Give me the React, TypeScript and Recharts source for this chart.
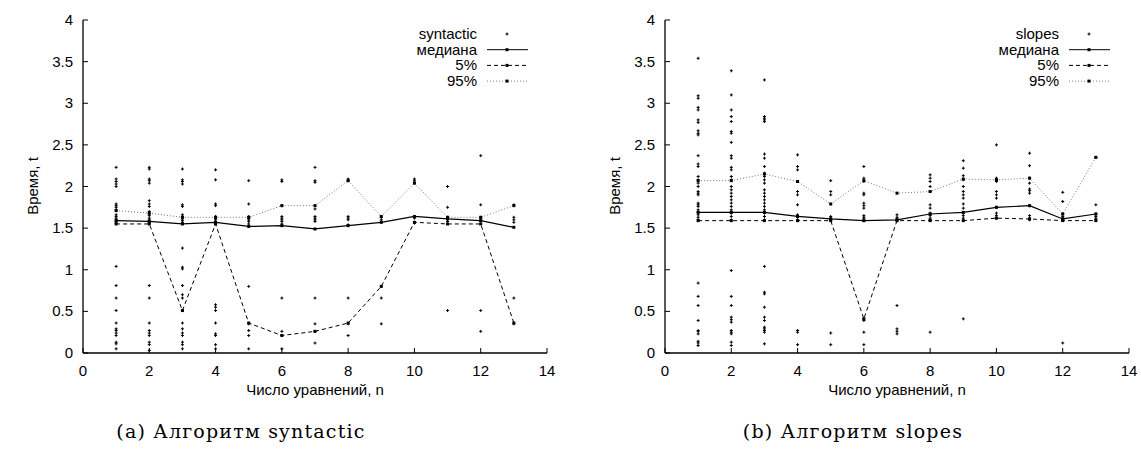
import React from 'react';
import { ScatterChart, Scatter, XAxis, YAxis } from 'recharts';

const nValues = [1, 2, 3, 4, 5, 6, 7, 8, 9, 10, 11, 12, 13];
const xTicks = [0, 2, 4, 6, 8, 10, 12, 14];
const yTicks = [0, 0.5, 1, 1.5, 2, 2.5, 3, 3.5, 4];
const legendLabels = ['медиана', '5%', '95%'];

// syntactic
const synMedian = [1.59, 1.58, 1.55, 1.57, 1.52, 1.53, 1.49, 1.53, 1.57, 1.64, 1.61, 1.59, 1.51];
const synP5 = [1.55, 1.55, 0.51, 1.55, 0.36, 0.21, 0.26, 0.36, 0.8, 1.57, 1.55, 1.55, 0.36];
const synP95 = [1.71, 1.68, 1.63, 1.63, 1.63, 1.77, 1.77, 2.07, 1.64, 2.04, 1.63, 1.63, 1.77];
const synRaw = [
  [2.23, 2.09, 2.06, 2.03, 2.0, 1.79, 1.77, 1.75, 1.72, 1.66, 1.64, 1.62, 1.6, 1.58, 1.56, 1.04, 0.81, 0.66, 0.51, 0.36, 0.29, 0.27, 0.24, 0.21, 0.13, 0.11, 0.05],
  [2.23, 2.21, 2.09, 2.07, 2.04, 1.83, 1.79, 1.76, 1.7, 1.67, 1.65, 1.62, 1.6, 1.58, 1.56, 0.81, 0.66, 0.36, 0.27, 0.24, 0.21, 0.13, 0.1, 0.03],
  [2.21, 2.08, 2.06, 2.03, 1.78, 1.76, 1.66, 1.63, 1.61, 1.59, 1.57, 1.26, 1.03, 1.01, 0.81, 0.7, 0.66, 0.51, 0.36, 0.29, 0.24, 0.21, 0.13, 0.1, 0.05],
  [2.2, 2.08, 1.79, 1.77, 1.64, 1.62, 1.6, 1.58, 0.58, 0.55, 0.51, 0.36, 0.23, 0.21, 0.1, 0.05],
  [2.07, 1.79, 1.64, 1.62, 1.6, 1.58, 1.55, 0.8, 0.35, 0.27, 0.21, 0.05],
  [2.08, 2.06, 1.77, 1.64, 1.62, 1.6, 1.58, 1.55, 0.66, 0.26, 0.21, 0.05],
  [2.23, 2.07, 2.05, 1.73, 1.64, 1.62, 1.6, 1.58, 0.66, 0.35, 0.26, 0.12],
  [2.09, 2.07, 1.64, 1.62, 1.6, 1.54, 0.66, 0.35, 0.21],
  [1.63, 1.6, 1.57, 0.8, 0.66, 0.35],
  [2.09, 2.07, 2.05, 1.64, 1.62, 1.56],
  [2.0, 1.75, 1.63, 1.61, 1.58, 0.51],
  [2.37, 1.78, 1.63, 1.61, 1.58, 0.51, 0.26],
  [1.78, 1.63, 1.6, 1.57, 0.66, 0.35],
];

// slopes
const slpMedian = [1.69, 1.69, 1.69, 1.64, 1.61, 1.59, 1.6, 1.67, 1.69, 1.75, 1.77, 1.61, 1.67];
const slpP5 = [1.59, 1.59, 1.59, 1.59, 1.59, 0.41, 1.59, 1.59, 1.59, 1.62, 1.61, 1.59, 1.59];
const slpP95 = [2.07, 2.07, 2.15, 2.06, 1.79, 2.07, 1.92, 1.94, 2.09, 2.08, 2.1, 1.67, 2.35];
const slpRaw = [
  [3.54, 3.09, 3.06, 2.95, 2.92, 2.8, 2.77, 2.67, 2.64, 2.62, 2.37, 2.27, 2.24, 2.12, 2.08, 2.04, 2.0, 1.94, 1.92, 1.9, 1.8, 1.78, 1.76, 1.72, 1.69, 1.66, 1.63, 1.6, 0.84, 0.68, 0.57, 0.39, 0.27, 0.26, 0.23, 0.14, 0.12, 0.09],
  [3.39, 3.1, 2.92, 2.84, 2.78, 2.66, 2.64, 2.53, 2.37, 2.34, 2.23, 2.2, 2.12, 2.08, 2.0, 1.96, 1.92, 1.88, 1.84, 1.8, 1.76, 1.72, 1.68, 1.64, 1.6, 0.99, 0.68, 0.57, 0.43, 0.4, 0.37, 0.27, 0.25, 0.23, 0.13, 0.09],
  [3.28, 2.84, 2.82, 2.8, 2.78, 2.39, 2.34, 2.24, 2.16, 2.12, 2.08, 2.04, 1.96, 1.92, 1.88, 1.84, 1.8, 1.76, 1.72, 1.68, 1.64, 1.6, 1.04, 0.73, 0.71, 0.55, 0.43, 0.39, 0.31, 0.29, 0.27, 0.25, 0.11],
  [2.38, 2.24, 2.2, 1.94, 1.9, 1.78, 1.66, 1.63, 1.6, 0.27, 0.25, 0.1],
  [2.07, 1.94, 1.9, 1.64, 1.62, 1.6, 0.24, 0.1],
  [2.24, 2.1, 2.06, 1.92, 1.9, 1.8, 1.77, 1.74, 1.65, 1.63, 1.61, 1.59, 0.41, 0.39, 0.25, 0.1],
  [1.66, 1.63, 1.61, 1.59, 0.57, 0.29, 0.26, 0.23],
  [2.14, 2.1, 2.06, 2.0, 1.94, 1.78, 1.74, 1.68, 1.65, 1.62, 1.6, 0.25],
  [2.31, 2.22, 2.13, 2.08, 2.0, 1.94, 1.9, 1.86, 1.79, 1.74, 1.68, 1.65, 1.62, 0.41],
  [2.5, 2.1, 2.08, 2.06, 1.94, 1.9, 1.86, 1.75, 1.68, 1.65, 1.62],
  [2.4, 2.25, 2.1, 2.04, 1.97, 1.95, 1.92, 1.77, 1.65, 1.62, 1.6],
  [1.93, 1.82, 1.67, 1.64, 1.62, 1.6, 0.12],
  [2.35, 1.78, 1.67, 1.64, 1.62, 1.6],
];

const toXY = (ys: number[]) => ys.map((y, i) => ({ x: nValues[i], y }));
const flatPoints = (raw: number[][]) =>
  raw.flatMap((ys, i) => ys.map((y) => ({ x: nValues[i], y })));

const FONT = '"Liberation Sans", Arial, sans-serif';
const W = 559;
const H = 400;

const Cross = (p: any) => (
  <path d={`M${p.cx - 1.5},${p.cy}h3M${p.cx},${p.cy - 1.5}v3`} stroke="#000" strokeWidth={1} />
);
const Square = (p: any) => (
  <rect x={p.cx - 1.5} y={p.cy - 1.5} width={3} height={3} fill="#000" />
);

const BottomTick = (p: any) => (
  <g>
    <line x1={p.x} x2={p.x} y1={p.y - 10} y2={p.y - 15} stroke="#000" />
    <text x={p.x} y={p.y + 13} textAnchor="middle" fontSize={15} fontFamily={FONT} fill="#000">
      {p.payload.value}
    </text>
  </g>
);
const TopTick = (p: any) => (
  <line x1={p.x} x2={p.x} y1={p.y + 10} y2={p.y + 15} stroke="#000" />
);
const LeftTick = (p: any) => (
  <g>
    <line x1={p.x + 10} x2={p.x + 15} y1={p.y} y2={p.y} stroke="#000" />
    <text x={p.x} y={p.y + 5} textAnchor="end" fontSize={15} fontFamily={FONT} fill="#000">
      {p.payload.value}
    </text>
  </g>
);
const RightTick = (p: any) => (
  <line x1={p.x - 10} x2={p.x - 15} y1={p.y} y2={p.y} stroke="#000" />
);

const LegendBox = ({ name }: { name: string }) => {
  const rows = [name, ...legendLabels];
  const dashes = ['', '', '4 3', '1 2'];
  const colors = ['#000', '#000', '#000', '#777'];
  return (
    <svg width={W} height={100} style={{ position: 'absolute', left: 0, top: 0 }}>
      {rows.map((r, i) => {
        const y = 34 + i * 15.7;
        return (
          <g key={r}>
            <text x={477} y={y + 5} textAnchor="end" fontSize={15} fontFamily={FONT} fill="#000">
              {r}
            </text>
            {i > 0 && (
              <line x1={487} x2={528} y1={y} y2={y} stroke={colors[i]} strokeDasharray={dashes[i]} />
            )}
            {i === 0 ? <Cross cx={507} cy={y} /> : <Square cx={507} cy={y} />}
          </g>
        );
      })}
    </svg>
  );
};

type PanelProps = {
  name: string;
  raw: number[][];
  median: number[];
  p5: number[];
  p95: number[];
  caption: string;
  captionX: number;
  left: number;
};

const Panel = ({ name, raw, median, p5, p95, caption, captionX, left }: PanelProps) => (
  <div style={{ position: 'absolute', left, top: 0, width: W, height: 461 }}>
    <ScatterChart width={W} height={H} margin={{ top: 20, right: 12, bottom: 7, left: 0 }}>
      <XAxis
        type="number"
        dataKey="x"
        xAxisId={0}
        domain={[0, 14]}
        ticks={xTicks}
        tickSize={8}
        tickMargin={2}
        height={40}
        tickLine={false}
        tick={<BottomTick />}
        axisLine={{ stroke: '#000', strokeWidth: 1.3 }}
        allowDataOverflow
      />
      <XAxis
        type="number"
        xAxisId="top"
        orientation="top"
        domain={[0, 14]}
        ticks={xTicks}
        tickSize={8}
        tickMargin={2}
        height={0}
        tickLine={false}
        tick={<TopTick />}
        axisLine={{ stroke: '#000', strokeWidth: 1.3 }}
        allowDataOverflow
      />
      <YAxis
        type="number"
        dataKey="y"
        yAxisId={0}
        domain={[0, 4]}
        ticks={yTicks}
        tickSize={8}
        tickMargin={2}
        width={83}
        tickLine={false}
        tick={<LeftTick />}
        axisLine={{ stroke: '#000', strokeWidth: 1.3 }}
        allowDataOverflow
      />
      <YAxis
        type="number"
        yAxisId="right"
        orientation="right"
        domain={[0, 4]}
        ticks={yTicks}
        tickSize={8}
        tickMargin={2}
        width={0}
        tickLine={false}
        tick={<RightTick />}
        axisLine={{ stroke: '#000', strokeWidth: 1.3 }}
        allowDataOverflow
      />
      <Scatter xAxisId={0} yAxisId={0} data={flatPoints(raw)} shape={<Cross />} isAnimationActive={false} />
      <Scatter
        xAxisId={0}
        yAxisId={0}
        data={toXY(p95)}
        shape={<Square />}
        line={{ stroke: '#777', strokeWidth: 1, strokeDasharray: '1 2' }}
        lineType="joint"
        isAnimationActive={false}
      />
      <Scatter
        xAxisId={0}
        yAxisId={0}
        data={toXY(p5)}
        shape={<Square />}
        line={{ stroke: '#000', strokeWidth: 1, strokeDasharray: '4 3' }}
        lineType="joint"
        isAnimationActive={false}
      />
      <Scatter
        xAxisId={0}
        yAxisId={0}
        data={toXY(median)}
        shape={<Square />}
        line={{ stroke: '#000', strokeWidth: 1.2 }}
        lineType="joint"
        isAnimationActive={false}
      />
    </ScatterChart>
    <LegendBox name={name} />
    <div
      style={{
        position: 'absolute', left: 32, top: 186, transform: 'translate(-50%, -50%) rotate(-90deg)',
        fontFamily: FONT, fontSize: 15, whiteSpace: 'nowrap', color: '#000',
      }}
    >
      Время, t
    </div>
    <div
      style={{
        position: 'absolute', left: 315, top: 389, transform: 'translate(-50%, -50%)',
        fontFamily: FONT, fontSize: 15, whiteSpace: 'nowrap', color: '#000',
      }}
    >
      Число уравнений, n
    </div>
    <div
      style={{
        position: 'absolute', left: captionX, top: 431, transform: 'translate(-50%, -50%)',
        fontFamily: '"DejaVu Serif", serif', fontSize: 19, letterSpacing: 1.2, whiteSpace: 'nowrap', color: '#000',
      }}
    >
      {caption}
    </div>
  </div>
);

export default function App() {
  return (
    <div style={{ position: 'absolute', left: 0, top: 0, width: 1141, height: 461, background: '#fff', overflow: 'hidden' }}>
      <Panel name="syntactic" raw={synRaw} median={synMedian} p5={synP5} p95={synP95} caption="(a) Алгоритм syntactic" captionX={241} left={0} />
      <Panel name="slopes" raw={slpRaw} median={slpMedian} p5={slpP5} p95={slpP95} caption="(b) Алгоритм slopes" captionX={271} left={582} />
    </div>
  );
}
